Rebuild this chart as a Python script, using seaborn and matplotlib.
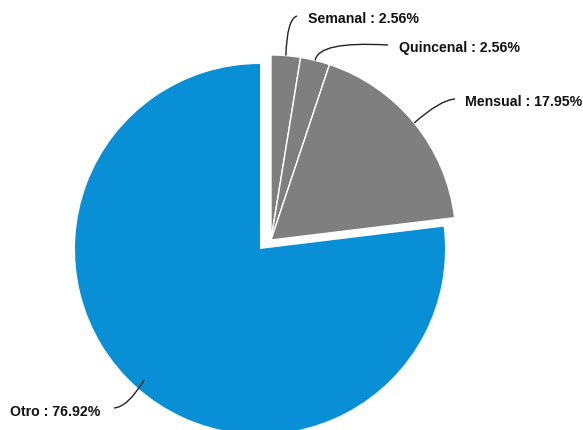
import matplotlib
matplotlib.use("Agg")
import matplotlib.pyplot as plt
import seaborn as sns
import numpy as np
from matplotlib.path import Path
from matplotlib.patches import PathPatch

sns.set_theme(style="white")
plt.rcParams["font.family"] = ["Liberation Sans", "DejaVu Sans"]

# Frecuencia de pago
categories = ["Semanal", "Quincenal", "Mensual", "Otro"]
shares = [2.56, 2.56, 17.95, 76.92]

BLUE = "#088fd5"
GRAY = "#7f7f7f"

W, H = 583, 431
fig = plt.figure(figsize=(W / 100, H / 100), dpi=100)
ax = fig.add_axes([0, 0, 1, 1])


def px(x, y):
    """Pixel position (origin top-left) to data coords."""
    return x, H - y


radius = 185
main_center = px(260, 250)
gray_center = px(271, 241)

# Otro: the large blue wedge
ax.pie(shares, colors=["none", "none", "none", BLUE], startangle=90,
       counterclock=False, center=main_center, radius=radius,
       wedgeprops=dict(linewidth=0))
# the three gray wedges, pulled out together
ax.pie(shares, colors=[GRAY, GRAY, GRAY, "none"], startangle=90,
       counterclock=False, center=gray_center, radius=radius,
       wedgeprops=dict(linewidth=1.0, edgecolor="white"))
ax.patches[-1].set_edgecolor("none")

# label layout: text left/center, curve bend point, curve end
label_pos = {
    "Semanal": dict(text=(308, 19), bend=(287, 20), end=(297, 17)),
    "Quincenal": dict(text=(399, 48), bend=(318, 42), end=(388, 46)),
    "Mensual": dict(text=(465, 102), bend=(440, 101), end=(455, 100)),
    "Otro": dict(text=(10, 412), bend=(128, 408), end=(114, 409)),
}

cum = np.cumsum([0] + shares)
for i, (cat, val) in enumerate(zip(categories, shares)):
    mid = np.deg2rad(90 - (cum[i] + val / 2) * 3.6)
    cx, cy = gray_center if cat != "Otro" else main_center
    r0 = radius if cat != "Otro" else radius - 10
    sx = cx + r0 * np.cos(mid)
    sy = cy + r0 * np.sin(mid)
    lp = label_pos[cat]
    verts = [(sx, sy), px(*lp["bend"]), px(*lp["end"])]
    path = Path(verts, [Path.MOVETO, Path.CURVE3, Path.CURVE3])
    ax.add_patch(PathPatch(path, facecolor="none", edgecolor="#222222",
                           linewidth=1.0))
    tx, ty = px(*lp["text"])
    ax.text(tx, ty, f"{cat} : {val:.2f}%", ha="left", va="center",
            fontsize=10.2, fontweight="bold", color="#111111")

ax.set_xlim(0, W)
ax.set_ylim(0, H)
ax.set_aspect("equal")
ax.axis("off")
fig.savefig("out.png", dpi=100)
